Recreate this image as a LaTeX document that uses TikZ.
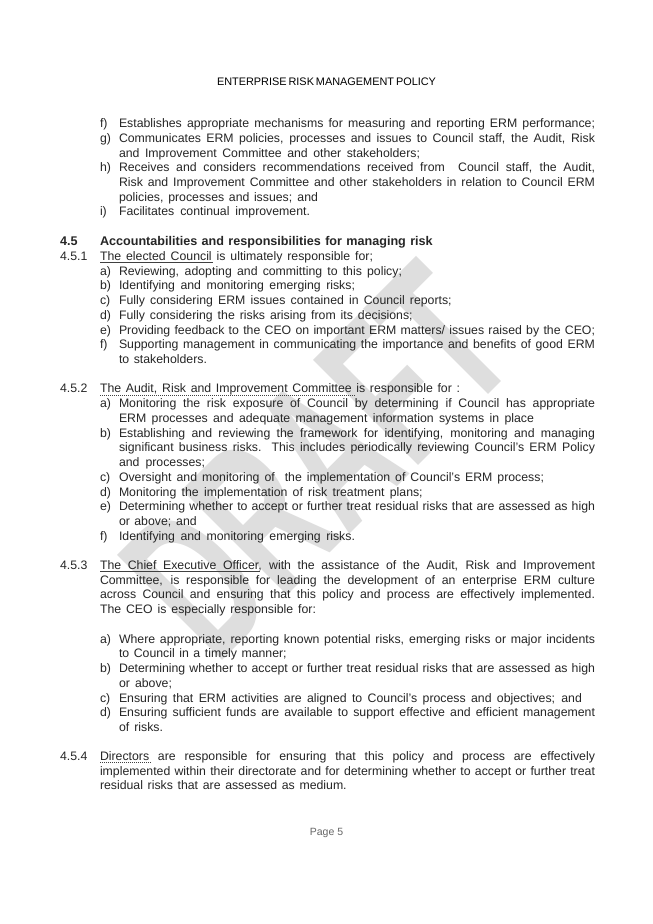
\documentclass[tikz,border=0pt]{standalone}
\usepackage{fontspec}
\setmainfont{Liberation Sans}
% #1 name, #2 x, #3 baseline y, #4 right end x, #5 text: line set to the measured width
\newcommand{\TL}[4]{\node[txt] (#1) at (#2,#3) {#4};}
\newlength{\linewd}
\newcommand{\JL}[5]{\pgfmathsetlength{\linewd}{#4-#2}\node[txt] (#1) at (#2,#3) {\spaceskip=.28em plus 1fil minus .17em\makebox[\linewd][s]{#5}};}
\tikzset{
  txt/.style={anchor=base west,inner sep=0pt,outer sep=0pt,text=black!85,font=\fontsize{12.3}{14}\selectfont},
  boldtxt/.style={txt,font=\fontsize{12.6}{14}\selectfont\bfseries},
  wmark/.style={transform shape,rotate=45,xscale=.59,text=black!13,inner sep=0pt,font=\fontsize{216}{216}\selectfont\bfseries},
  ulsolid/.style={draw=black!75,line width=.7pt},
  uldot/.style={draw=black!75,line width=.8pt,dash pattern=on 1pt off 1pt}
}
\begin{document}
\begin{tikzpicture}[x=1pt,y=-1pt]
\useasboundingbox (0,0) rectangle (653,924);
\fill[white] (0,0) rectangle (653,924);
\node[wmark] (wm) at (317,461) {DRAFT};
\node[txt,font=\fontsize{10.9}{12}\selectfont,text=black] (hd) at (217,85.5) {\spaceskip=.14em plus 1fil minus .1em\makebox[219pt][s]{ENTERPRISE RISK MANAGEMENT POLICY}};
% top list
\TL{tf}{100}{127}{f)}
\JL{tfa}{119}{127}{595}{Establishes appropriate mechanisms for measuring and reporting ERM performance;}
\TL{tg}{100}{142}{g)}
\JL{tga}{119}{142}{595}{Communicates ERM policies, processes and issues to Council staff, the Audit, Risk}
\JL{tgb}{119}{157}{420}{and Improvement Committee and other stakeholders;}
\TL{th}{100}{171.7}{h)}
\JL{tha}{119}{171.7}{595}{Receives and considers recommendations received from\ \ Council staff, the Audit,}
\JL{thb}{119}{186.4}{595}{Risk and Improvement Committee and other stakeholders in relation to Council ERM}
\JL{thc}{119}{201}{318}{policies, processes and issues; and}
\TL{ti}{100}{215.7}{i)}
\JL{tia}{119}{215.7}{310}{Facilitates continual improvement.}
% 4.5
\node[boldtxt] (s45) at (60,245) {4.5};
\node[boldtxt] (s45t) at (100,245) {\spaceskip=.28em plus 1fil minus .2em\makebox[332.7pt][s]{Accountabilities and responsibilities for managing risk}};
\TL{s451}{60}{260}{4.5.1}
\JL{s451t}{100}{260}{373}{The elected Council is ultimately responsible for;}
\coordinate (u1a) at (100,262); \coordinate (u1b) at (213,262);
\draw[ulsolid] (u1a) -- (u1b);
\TL{a1}{100}{275}{a)} \JL{a1t}{119}{275}{402}{Reviewing, adopting and committing to this policy;}
\TL{a2}{100}{289.7}{b)} \JL{a2t}{119}{289.7}{355}{Identifying and monitoring emerging risks;}
\TL{a3}{100}{304.5}{c)} \JL{a3t}{119}{304.5}{451.7}{Fully considering ERM issues contained in Council reports;}
\TL{a4}{100}{319}{d)} \JL{a4t}{119}{319}{412.7}{Fully considering the risks arising from its decisions;}
\TL{a5}{100}{334}{e)} \JL{a5t}{119}{334}{595}{Providing feedback to the CEO on important ERM matters/ issues raised by the CEO;}
\TL{a6}{100}{348.7}{f)} \JL{a6t}{119}{348.7}{595}{Supporting management in communicating the importance and benefits of good ERM}
\JL{a6u}{119}{363.3}{207}{to stakeholders.}
% 4.5.2
\TL{s452}{60}{392.7}{4.5.2}
\JL{s452t}{100}{392.7}{460}{The Audit, Risk and Improvement Committee is responsible for :}
\coordinate (u2a) at (100,395); \coordinate (u2b) at (355,395);
\draw[uldot] (u2a) -- (u2b);
\TL{b1}{100}{407.7}{a)} \JL{b1t}{119}{407.7}{595}{Monitoring the risk exposure of Council by determining if Council has appropriate}
\JL{b1u}{119}{422.3}{534}{ERM processes and adequate management information systems in place}
\TL{b2}{100}{437.3}{b)} \JL{b2t}{119}{437.3}{595}{Establishing and reviewing the framework for identifying, monitoring and managing}
\JL{b2u}{119}{451.7}{595}{significant business risks. This includes periodically reviewing Council's ERM Policy}
\JL{b2v}{119}{466.7}{205}{and processes;}
\TL{b3}{100}{481}{c)} \JL{b3t}{119}{481}{544}{Oversight and monitoring of\ \ the implementation of Council's ERM process;}
\TL{b4}{100}{496}{d)} \JL{b4t}{119}{496}{422.7}{Monitoring the implementation of risk treatment plans;}
\TL{b5}{100}{510.7}{e)} \JL{b5t}{119}{510.7}{595}{Determining whether to accept or further treat residual risks that are assessed as high}
\JL{b5u}{119}{525.7}{196.7}{or above; and}
\TL{b6}{100}{540}{f)} \JL{b6t}{119}{540}{355}{Identifying and monitoring emerging risks.}
% 4.5.3
\TL{s453}{60}{569.3}{4.5.3}
\JL{s453t}{100}{569.3}{595}{The Chief Executive Officer, with the assistance of the Audit, Risk and Improvement}
\coordinate (u3a) at (100,571.5); \coordinate (u3b) at (260,571.5);
\draw[ulsolid] (u3a) -- (u3b);
\JL{s453u}{100}{584}{595}{Committee, is responsible for leading the development of an enterprise ERM culture}
\JL{s453v}{100}{598.7}{595}{across Council and ensuring that this policy and process are effectively implemented.}
\JL{s453w}{100}{613.3}{316}{The CEO is especially responsible for:}
\TL{c1}{100}{643.3}{a)} \JL{c1t}{119}{643.3}{595}{Where appropriate, reporting known potential risks, emerging risks or major incidents}
\JL{c1u}{119}{657.7}{286.7}{to Council in a timely manner;}
\TL{c2}{100}{672.7}{b)} \JL{c2t}{119}{672.7}{595}{Determining whether to accept or further treat residual risks that are assessed as high}
\JL{c2u}{119}{687.3}{172}{or above;}
\TL{c3}{100}{702}{c)} \JL{c3t}{119}{702}{582}{Ensuring that ERM activities are aligned to Council's process and objectives; and}
\TL{c4}{100}{716.7}{d)} \JL{c4t}{119}{716.7}{595}{Ensuring sufficient funds are available to support effective and efficient management}
\JL{c4u}{119}{731.7}{163}{of risks.}
% 4.5.4
\TL{s454}{60}{760}{4.5.4}
\JL{s454t}{100}{760}{595}{Directors are responsible for ensuring that this policy and process are effectively}
\coordinate (u4a) at (100,762.5); \coordinate (u4b) at (151,762.5);
\draw[uldot] (u4a) -- (u4b);
\JL{s454u}{100}{775}{595}{implemented within their directorate and for determining whether to accept or further treat}
\JL{s454v}{100}{789.3}{346.7}{residual risks that are assessed as medium.}
\node[txt,anchor=base,font=\fontsize{10.5}{12}\selectfont,text=black!60] (pg) at (326.5,835) {Page 5};
\end{tikzpicture}
\end{document}
